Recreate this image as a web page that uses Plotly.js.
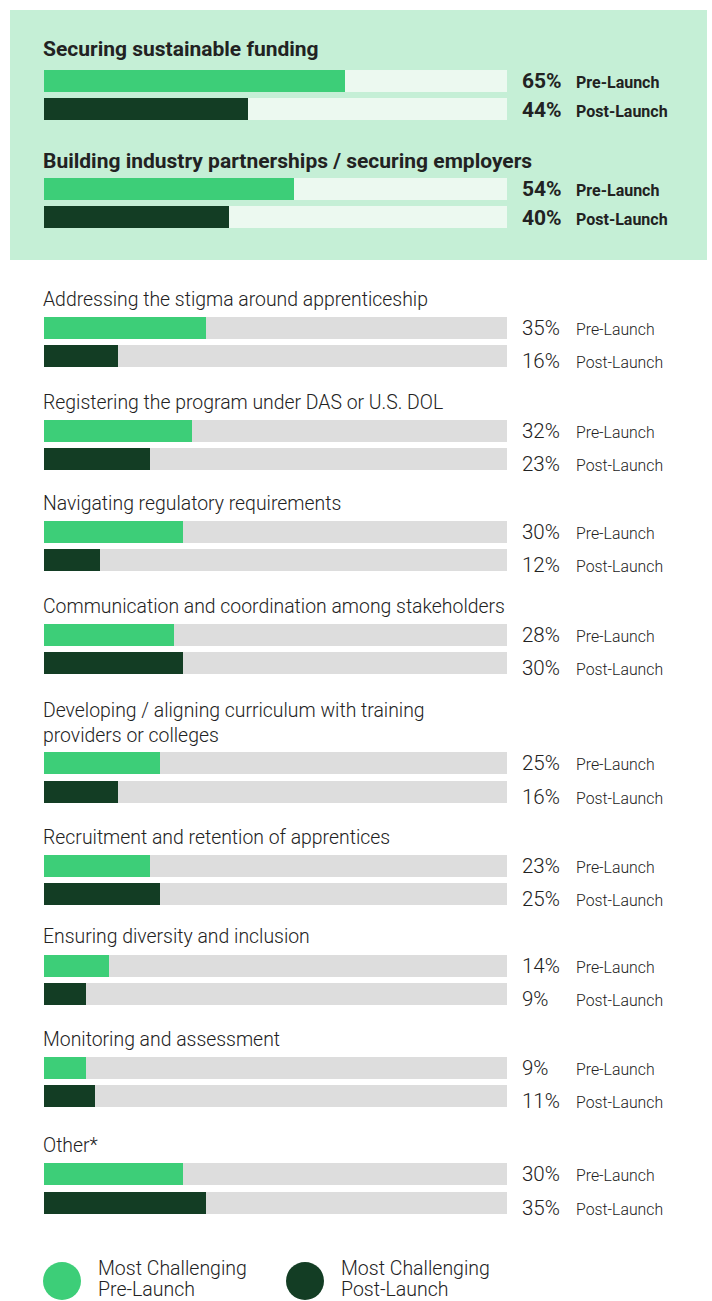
<!DOCTYPE html>
<html><head><meta charset="utf-8">
<script src="https://cdn.plot.ly/plotly-3.0.1.min.js"></script>
<style>html,body{margin:0;padding:0;background:#fff}#chart{width:712px;height:1301px}</style>
</head><body><div id="chart"></div>
<script>
// ---- data ----
const categories = [
  "Securing sustainable funding",
  "Building industry partnerships / securing employers",
  "Addressing the stigma around apprenticeship",
  "Registering the program under DAS or U.S. DOL",
  "Navigating regulatory requirements",
  "Communication and coordination among stakeholders",
  "Developing / aligning curriculum with training<br>providers or colleges",
  "Recruitment and retention of apprentices",
  "Ensuring diversity and inclusion",
  "Monitoring and assessment",
  "Other*"
];
const preLaunch  = [65, 54, 35, 32, 30, 28, 25, 23, 14, 9, 30];
const postLaunch = [44, 40, 16, 23, 12, 30, 16, 25, 9, 11, 35];
const seriesNames = ["Pre-Launch", "Post-Launch"];
const legendLine1 = ["Most Challenging", "Most Challenging"];
const legendLine2 = ["Pre-Launch", "Post-Launch"];
const highlightedCount = 2;

// ---- layout config (pixels) ----
const W = 712, H = 1301;
const titleY = [49, 161, 299, 402, 503, 606, 723, 837, 936, 1039, 1145];
const preY   = [81, 189, 328, 431, 532, 635, 763, 866, 966, 1068, 1174];
const postY  = [109, 217, 356, 459, 560, 663, 792, 894, 994, 1096, 1203];
const barH = 22;
const barX0 = 44, barX1 = 507;
const lightGreen = "#3dce78", darkGreen = "#133d24";
const trackGray = "#dddddd", trackLight = "#ecf9f0", boxColor = "#c5efd6";
const txt = "#222222";
const FONT = "Roboto, 'Liberation Sans', sans-serif";

const trackColors = categories.map((c, i) => i < highlightedCount ? trackLight : trackGray);
const full = categories.map(() => 100);

const traces = [
  {type:"bar", orientation:"h", x: full, y: preY, width: barH, marker:{color: trackColors}, hoverinfo:"skip", showlegend:false},
  {type:"bar", orientation:"h", x: full, y: postY, width: barH, marker:{color: trackColors}, hoverinfo:"skip", showlegend:false},
  {type:"bar", orientation:"h", x: preLaunch, y: preY, width: barH, marker:{color: lightGreen}, name: seriesNames[0], showlegend:false},
  {type:"bar", orientation:"h", x: postLaunch, y: postY, width: barH, marker:{color: darkGreen}, name: seriesNames[1], showlegend:false}
];

const annotations = [];
const px = v => v / W;
function ann(x, y, text, size, weight, extra) {
  return Object.assign({xref:"paper", yref:"y", x: px(x), y: y, xanchor:"left", yanchor:"middle",
    text: text, showarrow:false, align:"left", borderpad:0, borderwidth:0,
    font:{family: FONT, size: size, color: txt, weight: weight}}, extra || {});
}
categories.forEach((c, i) => {
  const hl = i < highlightedCount;
  annotations.push(ann(43, titleY[i], c, hl ? 21 : 19.4, hl ? 700 : 300));
  [[preLaunch, preY, 0, 0], [postLaunch, postY, 1, hl ? 1 : 5]].forEach(([vals, ys, k, dy]) => {
    annotations.push(ann(522, ys[i] + dy, vals[i] + "%", hl ? 21 : 20.5, hl ? 700 : 300));
    annotations.push(ann(576, ys[i] + dy + 1, seriesNames[k], hl ? 16 : 15.8, hl ? 700 : 300));
  });
});

// legend
const legX = [62, 305], legY = 1281, legR = 19;
const legColors = [lightGreen, darkGreen];
const shapes = [
  {type:"rect", xref:"paper", yref:"y", x0: px(10), x1: px(707), y0: 10, y1: 260, fillcolor: boxColor, line:{width:0}, layer:"below"}
];
legX.forEach((lx, k) => {
  shapes.push({type:"circle", xref:"paper", yref:"y", x0: px(lx - legR), x1: px(lx + legR), y0: legY - legR, y1: legY + legR,
    fillcolor: legColors[k], line:{width:0}});
  annotations.push(ann(lx + 36, 1268, legendLine1[k], 19.5, 300));
  annotations.push(ann(lx + 36, 1289, legendLine2[k], 19.5, 300));
});

const layout = {
  width: W, height: H, margin:{l:0, r:0, t:0, b:0},
  paper_bgcolor:"#ffffff", plot_bgcolor:"rgba(0,0,0,0)",
  barmode:"overlay", bargap:0,
  xaxis:{domain:[px(barX0), px(barX1)], range:[0, 100], visible:false, fixedrange:true},
  yaxis:{domain:[0, 1], range:[H, 0], visible:false, fixedrange:true},
  shapes, annotations, showlegend:false
};
Plotly.newPlot("chart", traces, layout, {displayModeBar:false, staticPlot:true});
</script></body></html>
